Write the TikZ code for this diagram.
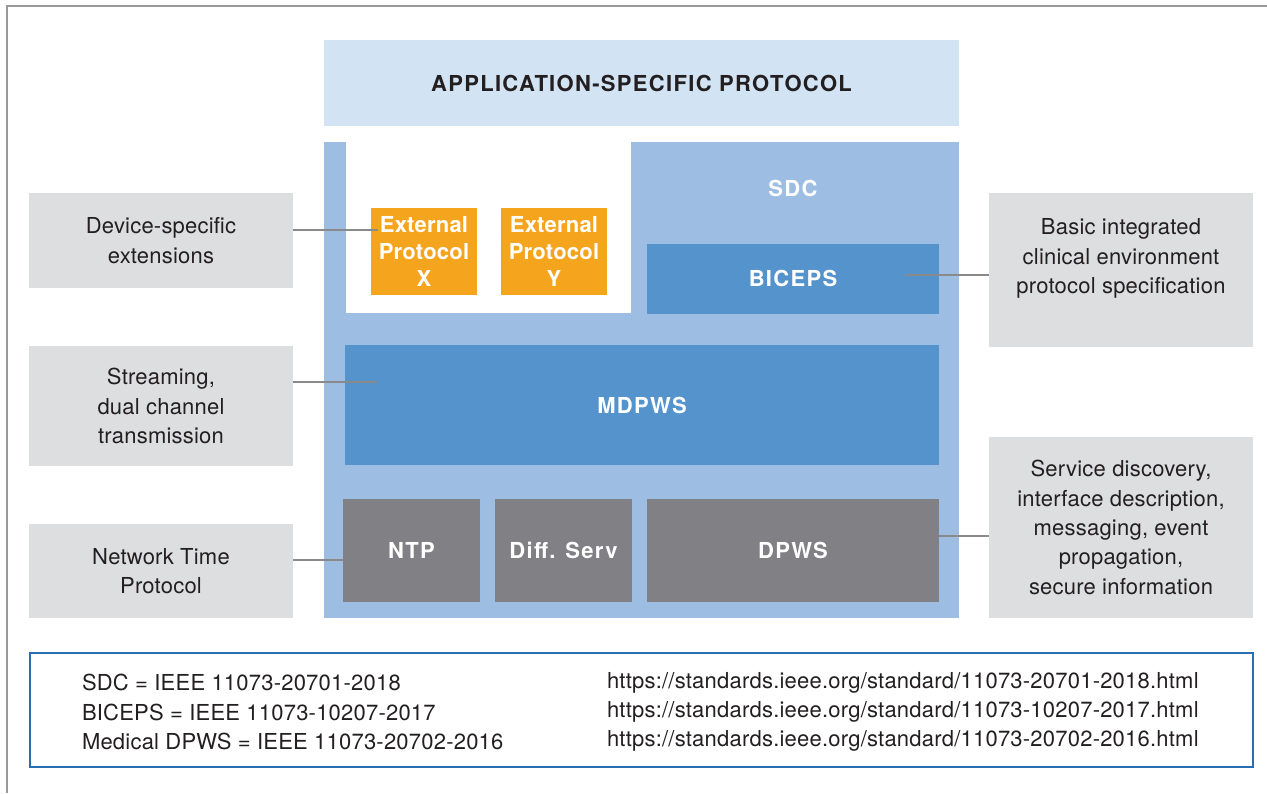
\documentclass[tikz,border=0pt]{standalone}
\usepackage{fontspec}
\setmainfont{TeX Gyre Heros}[LetterSpace=1]
\usepackage{tikz}
\usetikzlibrary{positioning,calc}

\definecolor{toplight}{HTML}{D2E3F4}
\definecolor{stackblue}{HTML}{9DBDE2}
\definecolor{layerblue}{HTML}{5593CC}
\definecolor{baseslate}{HTML}{808085}
\definecolor{extorange}{HTML}{F5A41E}
\definecolor{notegray}{HTML}{DDDEDF}
\definecolor{inkdark}{HTML}{231F20}
\definecolor{linkgray}{HTML}{8A8A8A}
\definecolor{legendblue}{HTML}{2B6DB3}

\newcommand{\tracked}{\addfontfeatures{LetterSpace=6}}

\begin{document}
\begin{tikzpicture}[
    x=0.5pt, y=-0.5pt,
    every node/.style={inner sep=0pt, outer sep=0pt},
    layer/.style={rectangle, fill=layerblue, text=white, align=center,
        font=\fontsize{11}{14}\selectfont\bfseries\tracked},
    slate/.style={rectangle, fill=baseslate, text=white, align=center,
        minimum height=51.5pt,
        font=\fontsize{11}{14}\selectfont\bfseries\tracked},
    ext/.style={rectangle, fill=extorange, text=white, align=center,
        minimum width=53pt, minimum height=43.5pt,
        font=\fontsize{11}{13.5}\selectfont\bfseries},
    note/.style={rectangle, fill=notegray, text=inkdark, align=center,
        minimum width=132pt, font=\fontsize{11}{14.7}\selectfont},
    notetext/.style={text=inkdark, align=center, font=\fontsize{11}{14.7}\selectfont},
    link/.style={draw=linkgray, line width=0.6pt},
]
\useasboundingbox (0,0) rectangle (1267,793);

% Frame
\draw[gray!80, line width=0.8pt] (7,793) -- (7,6) -- (1267,6);

% Application-specific protocol
\node[rectangle, fill=toplight, minimum width=317.5pt, minimum height=43pt,
    text=inkdark, font=\fontsize{11}{14}\selectfont\bfseries\tracked] (app) at (641.5,83)
    {APPLICATION-SPECIFIC PROTOCOL};

% Protocol stack
\node[rectangle, fill=stackblue, minimum width=317.5pt, minimum height=238pt] (stack) at (641.5,380) {};
\node[rectangle, fill=white, minimum width=142.5pt, minimum height=85.5pt] (extarea) at (488.5,227.5) {};

% External protocols
\node[ext] (extx) at (424,251.5) {External\\Protocol\\X};
\node[ext] (exty) at (554,251.5) {External\\Protocol\\Y};

% SDC and BICEPS
\node[text=white, font=\fontsize{11}{14}\selectfont\bfseries\tracked] (sdc) at (793,188) {SDC};
\node[layer, minimum width=146pt, minimum height=35pt] (biceps) at (793,278.5) {BICEPS};

% MDPWS
\node[layer, minimum width=297pt, minimum height=60pt] (mdpws) at (642,405) {MDPWS};

% Base layer
\node[slate, minimum width=68.5pt] (ntp) at (411.5,550.5) {NTP};
\node[slate, minimum width=68.5pt] (diffserv) at (563.5,550.5) {Diff. Serv};
\node[slate, minimum width=146pt] (dpws) at (793,550.5) {DPWS};

% Notes left
\node[note, minimum height=47.5pt] (devnote) at (161,240.5) {Device-specific\\extensions};
\node[note, minimum height=60pt] (streamnote) at (161,406) {Streaming,\\dual channel\\transmission};
\node[note, minimum height=47pt] (ntpnote) at (161,571) {Network Time\\Protocol};

% Notes right
\node[note, minimum height=77pt] (bicnote) at (1121,270) {};
\node[notetext] (bictext) at (1121,258.5) {Basic integrated\\clinical environment\\protocol specification};
\node[note, minimum height=90.5pt] (sdnote) at (1121,527.5)
    {Service discovery,\\interface description,\\messaging, event\\propagation,\\secure information};

% Links
\draw[link] ($(devnote.east)+(0,-10.5)$) -- ($(extx.west |- devnote.east)+(7,-10.5)$);
\draw[link] ($(streamnote.east)+(0,-24)$) -- ($(mdpws.west |- streamnote.east)+(32,-24)$);
\draw[link] ($(ntpnote.east)+(0,-11)$) -- ($(ntp.west |- ntpnote.east)+(0,-11)$);
\draw[link] ($(bicnote.west)+(0,5)$) -- ($(biceps.east |- bicnote.west)+(-34,5)$);
\draw[link] ($(sdnote.west)+(0,8.5)$) -- ($(dpws.east |- sdnote.west)+(0,8.5)$);

% Legend
\node[rectangle, draw=legendblue, line width=1pt, minimum width=611.5pt, minimum height=57pt] (legend) at (641.5,710) {};
\node[anchor=west, align=left, text=inkdark, font=\fontsize{11}{14.6}\selectfont] (legstd) at (82,712)
    {SDC = IEEE 11073-20701-2018\\BICEPS = IEEE 11073-10207-2017\\Medical DPWS = IEEE 11073-20702-2016};
\node[anchor=west, align=left, text=inkdark, font=\fontsize{11}{14.6}\selectfont] (legurl) at (607,712)
    {https://standards.ieee.org/standard/11073-20701-2018.html\\https://standards.ieee.org/standard/11073-10207-2017.html\\https://standards.ieee.org/standard/11073-20702-2016.html};

\end{tikzpicture}
\end{document}
